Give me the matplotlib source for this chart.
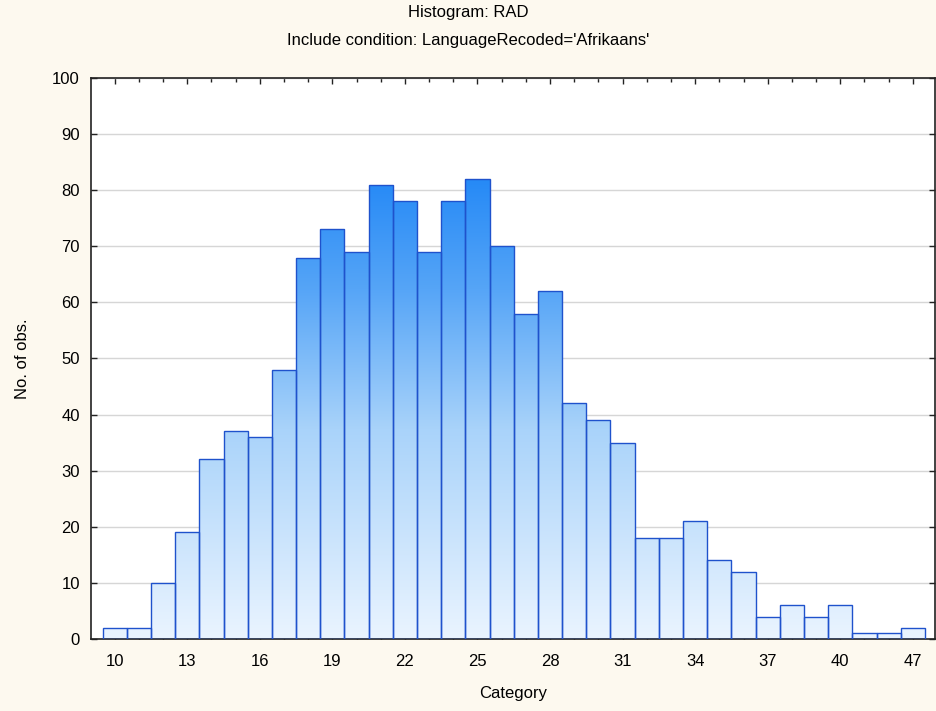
import numpy as np
import matplotlib
matplotlib.use('Agg')
import matplotlib.pyplot as plt
from matplotlib.colors import LinearSegmentedColormap

plt.rcParams['font.family'] = ['Liberation Sans', 'DejaVu Sans']

# Dane do histograma (contagens por categoria)
counts = [2, 2, 10, 19, 32, 37, 36, 48, 68, 73, 69, 81, 78, 69, 78, 82, 70,
          58, 62, 42, 39, 35, 18, 18, 21, 14, 12, 4, 6, 4, 6, 1, 1, 2]
tick_pos = [0, 3, 6, 9, 12, 15, 18, 21, 24, 27, 30, 33]
tick_labels = ['10', '13', '16', '19', '22', '25', '28', '31', '34', '37', '40', '47']
y_ticks = list(range(0, 101, 10))

fig = plt.figure(figsize=(9.36, 7.11), dpi=100)
fig.patch.set_facecolor('#fdf9ef')
ax = fig.add_axes([0.0972, 0.1013, 0.9018, 0.789])
ax.set_facecolor('white')

x = np.arange(len(counts))
bars = ax.bar(x, counts, width=1.0, facecolor='none', edgecolor='#1f52cc',
              linewidth=1.0, zorder=3)

# gradiente vertical dentro das barras
cmap = LinearSegmentedColormap.from_list(
    'grad', [(0.0, '#eaf4ff'), (0.45, '#a9d3fa'), (0.75, '#56a5f7'), (1.0, '#2388f6')])
grad = np.linspace(0, 1, 256).reshape(-1, 1)
for b in bars:
    im = ax.imshow(grad, cmap=cmap, origin='lower', aspect='auto',
                   extent=(-1, 34, 0, 83), zorder=2, interpolation='bilinear')
    im.set_clip_path(b)

ax.set_xlim(-0.98, 33.92)
ax.set_ylim(0, 100)

ax.set_yticks(y_ticks)
ax.set_xticks(tick_pos)
ax.set_xticklabels(tick_labels)
ax.set_xticks(x, minor=True)
ax.tick_params(axis='both', which='both', direction='in', top=True, right=True,
               labelsize=12, length=4, width=1, color='#222222', pad=8)
ax.tick_params(axis='x', which='major', pad=11)
ax.tick_params(axis='x', which='minor', length=3)
ax.grid(axis='y', color='#d6d6d6', linewidth=1.0, zorder=1)
ax.set_axisbelow(True)
for s in ax.spines.values():
    s.set_color('#222222')
    s.set_linewidth(1.2)

ax.set_xlabel('Category', fontsize=12, labelpad=12)
ax.set_ylabel('No. of obs.', fontsize=12, labelpad=16)

fig.text(0.5, 1 - 13 / 711, 'Histogram: RAD', ha='center', va='center', fontsize=12)
fig.text(0.5, 1 - 40 / 711, "Include condition: LanguageRecoded='Afrikaans'",
         ha='center', va='center', fontsize=12)

fig.savefig('out.png', dpi=100, facecolor=fig.get_facecolor())
